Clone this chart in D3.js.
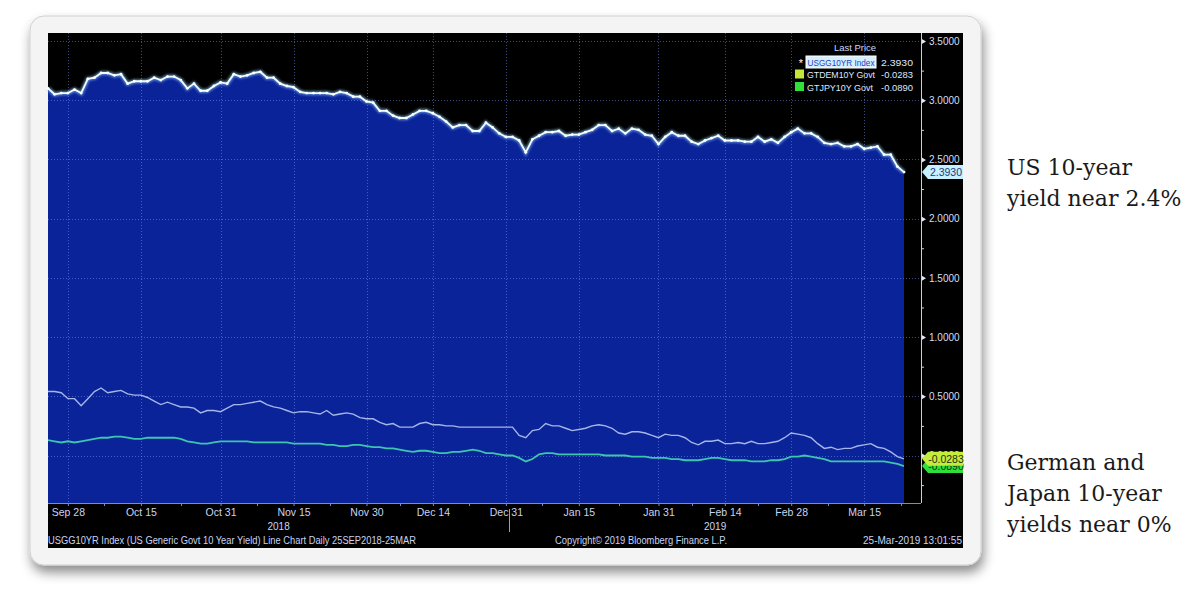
<!DOCTYPE html>
<html><head><meta charset="utf-8">
<script src="https://cdn.jsdelivr.net/npm/d3@7"></script>
<style>html,body{margin:0;padding:0;background:#fff;} svg{display:block}</style>
</head><body>
<svg id="c" width="1200" height="598"></svg>
<script>
// ---------- DATA ----------
const dates = [
"2018-09-25","2018-09-26","2018-09-27","2018-09-28",
"2018-10-01","2018-10-02","2018-10-03","2018-10-04","2018-10-05","2018-10-08","2018-10-09","2018-10-10","2018-10-11","2018-10-12",
"2018-10-15","2018-10-16","2018-10-17","2018-10-18","2018-10-19","2018-10-22","2018-10-23","2018-10-24","2018-10-25","2018-10-26",
"2018-10-29","2018-10-30","2018-10-31",
"2018-11-01","2018-11-02","2018-11-05","2018-11-06","2018-11-07","2018-11-08","2018-11-09","2018-11-12","2018-11-13","2018-11-14",
"2018-11-15","2018-11-16","2018-11-19","2018-11-20","2018-11-21","2018-11-22","2018-11-23","2018-11-26","2018-11-27","2018-11-28",
"2018-11-29","2018-11-30",
"2018-12-03","2018-12-04","2018-12-05","2018-12-06","2018-12-07","2018-12-10","2018-12-11","2018-12-12","2018-12-13","2018-12-14",
"2018-12-17","2018-12-18","2018-12-19","2018-12-20","2018-12-21","2018-12-24","2018-12-25","2018-12-26","2018-12-27","2018-12-28",
"2018-12-31",
"2019-01-01","2019-01-02","2019-01-03","2019-01-04","2019-01-07","2019-01-08","2019-01-09","2019-01-10","2019-01-11","2019-01-14",
"2019-01-15","2019-01-16","2019-01-17","2019-01-18","2019-01-21","2019-01-22","2019-01-23","2019-01-24","2019-01-25","2019-01-28",
"2019-01-29","2019-01-30","2019-01-31",
"2019-02-01","2019-02-04","2019-02-05","2019-02-06","2019-02-07","2019-02-08","2019-02-11","2019-02-12","2019-02-13","2019-02-14",
"2019-02-15","2019-02-18","2019-02-19","2019-02-20","2019-02-21","2019-02-22","2019-02-25","2019-02-26","2019-02-27","2019-02-28",
"2019-03-01","2019-03-04","2019-03-05","2019-03-06","2019-03-07","2019-03-08","2019-03-11","2019-03-12","2019-03-13","2019-03-14",
"2019-03-15","2019-03-18","2019-03-19","2019-03-20","2019-03-21","2019-03-22","2019-03-25"
];
const usYield = [
3.10,3.05,3.06,3.06,
3.09,3.06,3.18,3.19,3.23,3.23,3.21,3.22,3.14,3.16,3.16,3.16,3.19,3.17,3.20,3.20,3.17,3.10,3.14,3.08,3.08,3.12,3.15,
3.14,3.22,3.20,3.21,3.23,3.24,3.19,3.19,3.14,3.12,3.11,3.07,3.06,3.06,3.06,3.06,3.05,3.07,3.06,3.03,3.03,2.99,
2.98,2.91,2.91,2.87,2.85,2.85,2.88,2.91,2.91,2.89,2.86,2.82,2.77,2.79,2.79,2.74,2.74,2.81,2.77,2.72,2.69,
2.69,2.66,2.56,2.67,2.70,2.73,2.73,2.74,2.70,2.71,2.71,2.73,2.75,2.79,2.79,2.74,2.76,2.72,2.76,2.75,2.71,2.70,2.63,
2.69,2.73,2.70,2.70,2.65,2.63,2.66,2.68,2.70,2.66,2.66,2.66,2.65,2.65,2.69,2.65,2.67,2.64,2.69,2.73,
2.76,2.72,2.72,2.69,2.64,2.63,2.64,2.61,2.61,2.63,2.59,2.60,2.61,2.54,2.54,2.44,2.393
];
const deYield = [
0.54,0.54,0.53,0.48,
0.48,0.42,0.48,0.54,0.57,0.53,0.54,0.55,0.52,0.51,0.51,0.49,0.46,0.43,0.45,0.43,0.41,0.41,0.40,0.36,0.38,0.38,0.37,
0.40,0.43,0.43,0.44,0.45,0.46,0.43,0.41,0.40,0.38,0.36,0.37,0.37,0.36,0.35,0.38,0.34,0.35,0.36,0.35,0.32,0.31,
0.31,0.28,0.26,0.27,0.24,0.24,0.24,0.27,0.28,0.26,0.26,0.25,0.25,0.24,0.24,0.24,0.24,0.24,0.24,0.24,0.24,
0.24,0.17,0.15,0.21,0.22,0.27,0.25,0.25,0.23,0.21,0.22,0.23,0.25,0.26,0.25,0.23,0.19,0.18,0.20,0.20,0.19,0.17,0.15,
0.18,0.17,0.17,0.15,0.11,0.09,0.12,0.12,0.13,0.10,0.10,0.11,0.10,0.12,0.10,0.10,0.11,0.12,0.15,0.19,
0.18,0.17,0.15,0.10,0.06,0.07,0.05,0.06,0.06,0.08,0.09,0.10,0.07,0.06,0.03,-0.01,-0.0283
];
const jpYield = [
0.13,0.12,0.11,0.12,
0.11,0.12,0.13,0.14,0.15,0.15,0.16,0.16,0.15,0.14,0.14,0.15,0.15,0.15,0.15,0.15,0.14,0.12,0.11,0.10,0.10,0.11,0.12,
0.12,0.12,0.12,0.12,0.11,0.11,0.11,0.11,0.11,0.11,0.10,0.10,0.10,0.10,0.10,0.09,0.09,0.08,0.08,0.09,0.09,0.08,
0.07,0.07,0.06,0.06,0.05,0.04,0.03,0.04,0.04,0.03,0.02,0.02,0.03,0.03,0.04,0.05,0.04,0.02,0.02,0.01,0.00,
0.00,-0.02,-0.05,-0.03,0.01,0.02,0.02,0.01,0.01,0.01,0.01,0.01,0.01,0.01,0.00,0.00,0.00,0.00,-0.01,-0.01,-0.01,-0.02,-0.02,
-0.02,-0.03,-0.03,-0.04,-0.04,-0.04,-0.03,-0.02,-0.02,-0.03,-0.04,-0.04,-0.04,-0.05,-0.05,-0.05,-0.04,-0.04,-0.03,-0.01,
-0.01,0.00,-0.01,-0.02,-0.03,-0.05,-0.05,-0.05,-0.05,-0.05,-0.05,-0.05,-0.05,-0.05,-0.06,-0.07,-0.089
];
const xTickDates  = ["2018-09-28","2018-10-15","2018-10-31","2018-11-15","2018-11-30","2018-12-14","2018-12-31","2019-01-15","2019-01-31","2019-02-14","2019-02-28","2019-03-15"];
const xTickLabels = ["Sep 28","Oct 15","Oct 31","Nov 15","Nov 30","Dec 14","Dec 31","Jan 15","Jan 31","Feb 14","Feb 28","Mar 15"];
const yTicks = [3.5,3.0,2.5,2.0,1.5,1.0,0.5,0];
const yMinorTicks = [3.25,2.75,2.25,1.75,1.25,0.75,0.25,-0.25];
const seriesNames = ["USGG10YR Index","GTDEM10Y Govt","GTJPY10Y Govt"];
const lastPrices = ["2.3930","-0.0283","-0.0890"];
const yearLabels = ["2018","2019"];
const footerLeft = "USGG10YR Index (US Generic Govt 10 Year Yield) Line Chart  Daily 25SEP2018-25MAR";
const footerMid = "Copyright\u00A9 2019 Bloomberg Finance L.P.";
const footerRight = "25-Mar-2019 13:01:55";
const noteUS = ["US 10-year","yield near 2.4%"];
const noteEU = ["German and","Japan 10-year","yields near 0%"];

// ---------- DRAW ----------
const svg = d3.select("#c");
const defs = svg.append("defs");
const sh = defs.append("filter").attr("id","shadow").attr("x","-5%").attr("y","-5%").attr("width","110%").attr("height","115%");
sh.append("feDropShadow").attr("dx",2).attr("dy",7).attr("stdDeviation",6).attr("flood-color","#000").attr("flood-opacity",0.45);
const glow = defs.append("filter").attr("id","glow").attr("x","-5%").attr("y","-20%").attr("width","110%").attr("height","140%");
glow.append("feGaussianBlur").attr("stdDeviation",1.2);

const L = 48, R = 921, T = 33, B = 503;
const x = d3.scalePoint().domain(dates).range([48, 904]);
const y = d3.scaleLinear().domain([0, 3.5]).range([455.5, 41]);
const sans = "'Liberation Sans',Arial,sans-serif";

// card + panel
svg.append("rect").attr("x",30).attr("y",16).attr("width",951).attr("height",549).attr("rx",14)
  .attr("fill","#f4f4f4").attr("stroke","#d0d0d0").attr("filter","url(#shadow)");
svg.append("rect").attr("x",48).attr("y",33).attr("width",915).attr("height",515).attr("fill","#000");

// US area fill
const area = d3.area().x(d=>x(d.d)).y0(B).y1(d=>y(d.v));
const usData = dates.map((d,i)=>({d, v: usYield[i]}));
const deData = dates.map((d,i)=>({d, v: deYield[i]}));
const jpData = dates.map((d,i)=>({d, v: jpYield[i]}));
svg.append("path").datum(usData).attr("d", area).attr("fill","#0b2399");

// gridlines (dotted)
const grid = svg.append("g").attr("stroke","#7a98ff").attr("stroke-opacity",0.5).attr("stroke-dasharray","1,2").attr("stroke-width",1);
yTicks.forEach(v=>{
  grid.append("line").attr("x1",L).attr("x2",R).attr("y1",Math.round(y(v))+0.5).attr("y2",Math.round(y(v))+0.5);
});
xTickDates.forEach(d=>{
  grid.append("line").attr("x1",Math.round(x(d))+0.5).attr("x2",Math.round(x(d))+0.5).attr("y1",T).attr("y2",B);
});

// lines
const line = d3.line().x(d=>x(d.d)).y(d=>y(d.v));
svg.append("path").datum(deData).attr("d",line).attr("fill","none").attr("stroke","#a6b6e6").attr("stroke-width",1.4);
svg.append("path").datum(jpData).attr("d",line).attr("fill","none").attr("stroke","#3cc6ae").attr("stroke-width",1.8);
svg.append("path").datum(usData).attr("d",line).attr("fill","none").attr("stroke","#8fd2ff").attr("stroke-width",4.5).attr("stroke-opacity",0.55).attr("filter","url(#glow)");
svg.append("path").datum(usData).attr("d",line).attr("fill","none").attr("stroke","#f2fbff").attr("stroke-width",1.8);
svg.append("g").selectAll("circle").data(usData).join("circle")
  .attr("cx",d=>x(d.d)).attr("cy",d=>y(d.v)).attr("r",1.4).attr("fill","#ffffff");

// right axis
const yAxis = d3.axisRight(y).tickValues(yTicks).tickFormat(d3.format(".4f")).tickSize(0).tickPadding(8);
const ya = svg.append("g").attr("transform",`translate(${R},0)`).call(yAxis);
ya.select(".domain").remove();
ya.selectAll("text").attr("fill","#d4def2").style("font-family",sans).style("font-size","10px");
ya.selectAll(".tick").append("path").attr("d","M0,-3L5,0L0,3Z").attr("fill","#e0e8f8");
const yMinor = d3.axisRight(y).tickValues(yMinorTicks).tickFormat("").tickSize(3);
const ym = svg.append("g").attr("transform",`translate(${R},0)`).call(yMinor);
ym.select(".domain").remove();
ym.selectAll("line").attr("stroke","#c8d4ee");
svg.append("line").attr("x1",R+0.5).attr("x2",R+0.5).attr("y1",T).attr("y2",B).attr("stroke","#c8d0e0").attr("stroke-width",1);

// x axis
const xAxis = d3.axisBottom(x).tickValues(xTickDates).tickFormat((d,i)=>xTickLabels[i]).tickSize(3).tickPadding(3);
const xa = svg.append("g").attr("transform",`translate(0,${B})`).call(xAxis);
xa.select(".domain").remove();
xa.selectAll("line").attr("stroke","#6f8ce0");
xa.selectAll("text").attr("fill","#c8d4f2").style("font-family",sans).style("font-size","10.5px");
svg.append("line").attr("x1",L).attr("x2",R).attr("y1",B+0.5).attr("y2",B+0.5).attr("stroke","#6f8ce0").attr("stroke-width",1.2);
const mids = xTickDates.slice(0,-1).map((d,i)=>(x(d)+x(xTickDates[i+1]))/2).concat([x(xTickDates[11])+(x(xTickDates[11])-x(xTickDates[10]))/2]);
svg.append("g").selectAll("line").data(mids).join("line")
  .attr("x1",d=>Math.round(d)+0.5).attr("x2",d=>Math.round(d)+0.5).attr("y1",B).attr("y2",B+3).attr("stroke","#6f8ce0");

// year labels
const yb = (x("2018-12-31")+x("2019-01-01"))/2;
svg.append("line").attr("x1",Math.round(yb)+0.5).attr("x2",Math.round(yb)+0.5).attr("y1",509).attr("y2",532).attr("stroke","#8aa0d8");
svg.append("text").attr("x",(L+yb)/2).attr("y",530).attr("text-anchor","middle").attr("fill","#c8d4f2").style("font-family",sans).style("font-size","10px").text(yearLabels[0]);
svg.append("text").attr("x",(yb+R)/2).attr("y",530).attr("text-anchor","middle").attr("fill","#c8d4f2").style("font-family",sans).style("font-size","10px").text(yearLabels[1]);

// footer
const ff = svg.append("g").attr("fill","#c8d4f2").style("font-family",sans).style("font-size","10px");
ff.append("text").attr("x",48).attr("y",544).attr("textLength",368).attr("lengthAdjust","spacingAndGlyphs").text(footerLeft);
ff.append("text").attr("x",555).attr("y",544).attr("textLength",172).attr("lengthAdjust","spacingAndGlyphs").text(footerMid);
ff.append("text").attr("x",962).attr("y",544).attr("text-anchor","end").text(footerRight);

// legend
const lg = svg.append("g").style("font-family",sans).style("font-size","9px");
lg.append("text").attr("x",855).attr("y",51).attr("text-anchor","middle").attr("fill","#c8d8ff").style("font-size","9.5px").text("Last Price");
const rowY = [62, 74.5, 87];
const swatch = ["#ffffff","#c4e63a","#2fe03a"];
rowY.forEach((ry,i)=>{
  if(i===0){
    lg.append("text").attr("x",801).attr("y",ry+5).attr("text-anchor","middle").attr("fill","#fff").style("font-size","11px").text("*");
    lg.append("rect").attr("x",806).attr("y",ry-6).attr("width",70).attr("height",12).attr("fill","#d6eeff").attr("stroke","#ffffff");
    lg.append("text").attr("x",807.5).attr("y",ry+3.5).attr("fill","#1f45b8").attr("textLength",67).attr("lengthAdjust","spacingAndGlyphs").text(seriesNames[i]);
  } else {
    lg.append("rect").attr("x",795).attr("y",ry-5).attr("width",9).attr("height",9).attr("fill",swatch[i]);
    lg.append("text").attr("x",807).attr("y",ry+3.5).attr("fill","#dfe8ff").attr("textLength",i===1?68:66).attr("lengthAdjust","spacingAndGlyphs").text(seriesNames[i]);
  }
  lg.append("text").attr("x",913).attr("y",ry+3.5).attr("text-anchor","end").attr("fill","#dfe8ff").attr("textLength",32).attr("lengthAdjust","spacingAndGlyphs").text(lastPrices[i]);
});

// value flags
function flag(v, fill, tcol, label){
  const yy = y(v);
  const g = svg.append("g");
  g.append("path").attr("d",`M${R+1},${yy}L${R+7},${yy-7}L${R+42},${yy-7}L${R+42},${yy+7}L${R+7},${yy+7}Z`).attr("fill",fill);
  g.append("text").attr("x",R+25).attr("y",yy+4).attr("text-anchor","middle").attr("fill",tcol)
    .style("font-family",sans).style("font-size","10.5px").text(label);
}
flag(+lastPrices[2], "#2fe03a", "#0a3010", lastPrices[2]);
flag(+lastPrices[1], "#c4ec3c", "#203010", lastPrices[1]);
flag(+lastPrices[0], "#c6f0ff", "#203a80", lastPrices[0]);

// annotations
const an = svg.append("g").attr("fill","#1a1a1a").style("font-family","'DejaVu Serif',Georgia,serif").style("font-size","22px");
noteUS.forEach((t,i)=> an.append("text").attr("x",1007).attr("y",175+i*31).text(t));
noteEU.forEach((t,i)=> an.append("text").attr("x",1007).attr("y",470+i*31).text(t));
</script>
</body></html>
